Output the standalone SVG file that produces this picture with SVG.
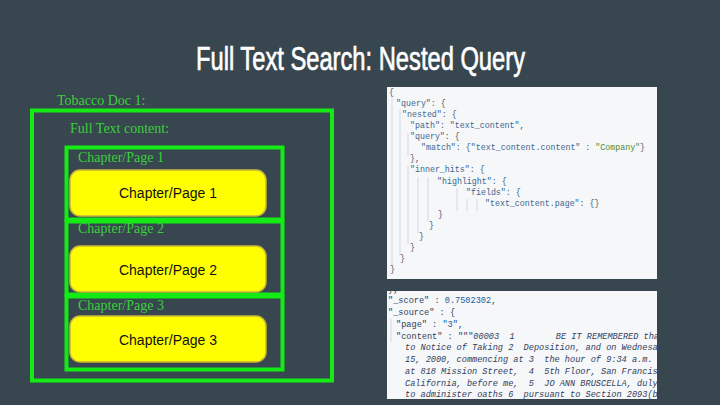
<svg xmlns="http://www.w3.org/2000/svg" width="720" height="405" viewBox="0 0 720 405">
<defs>
<style>
.title{font-family:"Liberation Sans",Arial,sans-serif;font-size:33.5px;fill:#ffffff;stroke:#ffffff;stroke-width:0.7}
.glabel{font-family:"Liberation Serif","Times New Roman",serif;font-size:14px;fill:#3ccf3c}
.gbox{fill:none;stroke:#14ea14;stroke-width:4}
.ybox{fill:#ffff00;stroke:#c9b83a;stroke-width:1.5}
.ytext{font-family:"Liberation Sans",Arial,sans-serif;font-size:14px;fill:#111111;text-anchor:middle}
.panel{fill:#f5f7f9}
.code{font-family:"Liberation Mono","DejaVu Sans Mono",monospace;font-size:8.3px;fill:#4a5872;white-space:pre}
.code2{font-family:"Liberation Mono","DejaVu Sans Mono",monospace;font-size:8.6px;fill:#2e3d5c;white-space:pre}
.it{font-style:italic;fill:#33415e}
.str{fill:#3d6690}
.grn{fill:#4f8a35}
.num{fill:#1f5a96}
.guide{stroke:#d3d8de;stroke-width:1}
</style>
<clipPath id="clip1"><rect x="387" y="87" width="270" height="192"/></clipPath>
<clipPath id="clip2"><rect x="387" y="291" width="270" height="108"/></clipPath>
</defs>
<rect x="0" y="0" width="720" height="405" fill="#37464f"/>
<text class="title" x="196" y="70" textLength="329" lengthAdjust="spacingAndGlyphs">Full Text Search: Nested Query</text>

<g id="doc">
<text class="glabel" x="57" y="105">Tobacco Doc 1:</text>
<rect class="gbox" x="32" y="110.5" width="300" height="270"/>
<text class="glabel" x="70" y="133">Full Text content:</text>
</g>

<g id="page1">
<rect class="gbox" x="66.5" y="147.5" width="216" height="72"/>
<text class="glabel" x="78" y="162">Chapter/Page 1</text>
<rect class="ybox" x="70" y="170" width="196" height="46" rx="10"/>
<text class="ytext" x="168" y="198">Chapter/Page 1</text>
</g>

<g id="page2">
<rect class="gbox" x="66.5" y="221.5" width="216" height="73"/>
<text class="glabel" x="78" y="233">Chapter/Page 2</text>
<rect class="ybox" x="70" y="246" width="196" height="46" rx="10"/>
<text class="ytext" x="168" y="275">Chapter/Page 2</text>
</g>

<g id="page3">
<rect class="gbox" x="66.5" y="296.5" width="216" height="73"/>
<text class="glabel" x="78" y="310">Chapter/Page 3</text>
<rect class="ybox" x="70" y="316" width="196" height="46" rx="10"/>
<text class="ytext" x="168" y="345">Chapter/Page 3</text>
</g>

<g id="query-panel">
<rect class="panel" x="387" y="87" width="270" height="192"/>
<g clip-path="url(#clip1)">
<line class="guide" x1="392" y1="98" x2="392" y2="266"/>
<line class="guide" x1="400" y1="110" x2="400" y2="255"/>
<line class="guide" x1="408" y1="133" x2="408" y2="156"/>
<line class="guide" x1="408" y1="166" x2="408" y2="244"/>
<line class="guide" x1="418" y1="177" x2="418" y2="233"/>
<line class="guide" x1="428" y1="177" x2="428" y2="222"/>
<line class="guide" x1="457" y1="188" x2="457" y2="211"/>
<line class="guide" x1="467" y1="199" x2="467" y2="211"/>
<line class="guide" x1="477" y1="199" x2="477" y2="211"/>
<text class="code" x="389" y="95">{</text>
<text class="code" x="396" y="106"><tspan class="str">"query"</tspan>: {</text>
<text class="code" x="402" y="117"><tspan class="str">"nested"</tspan>: {</text>
<text class="code" x="410" y="128"><tspan class="str">"path"</tspan>: <tspan class="str">"text_content"</tspan>,</text>
<text class="code" x="410" y="139"><tspan class="str">"query"</tspan>: {</text>
<text class="code" x="421" y="150"><tspan class="str">"match"</tspan>: {<tspan class="str">"text_content.content"</tspan> : <tspan class="grn">"Company"</tspan>}</text>
<text class="code" x="410" y="161">},</text>
<text class="code" x="410" y="172"><tspan class="str">"inner_hits"</tspan>: {</text>
<text class="code" x="437" y="184"><tspan class="str">"highlight"</tspan>: {</text>
<text class="code" x="466" y="195"><tspan class="str">"fields"</tspan>: {</text>
<text class="code" x="485" y="206"><tspan class="str">"text_content.page"</tspan>: {}</text>
<text class="code" x="438" y="217">}</text>
<text class="code" x="429" y="228">}</text>
<text class="code" x="419" y="239">}</text>
<text class="code" x="410" y="250">}</text>
<text class="code" x="400" y="261">}</text>
<text class="code" x="390" y="272">}</text>
</g>
</g>

<g id="result-panel">
<rect class="panel" x="387" y="291" width="270" height="108"/>
<g clip-path="url(#clip2)">
<line class="guide" x1="391" y1="319" x2="391" y2="342"/>
<text class="code2" x="388" y="292">},</text>
<text class="code2" x="388" y="303">"_score" : <tspan class="num">0.7502302</tspan>,</text>
<text class="code2" x="388" y="315">"_source" : {</text>
<text class="code2" x="396" y="327">"page" : <tspan class="num">"3"</tspan>,</text>
<text class="code2" x="396" y="339">"content" : """<tspan class="it">00003  1        BE IT REMEMBERED that</tspan></text>
<text class="code2 it" x="405" y="350">to Notice of Taking 2  Deposition, and on Wednesa</text>
<text class="code2 it" x="405" y="362">15, 2000, commencing at 3  the hour of 9:34 a.m.</text>
<text class="code2 it" x="405" y="374">at 818 Mission Street,  4  5th Floor, San Francis</text>
<text class="code2 it" x="405" y="386">California, before me,  5  JO ANN BRUSCELLA, duly</text>
<text class="code2 it" x="405" y="397">to administer oaths 6  pursuant to Section 2093(b</text>
</g>
</g>
</svg>
